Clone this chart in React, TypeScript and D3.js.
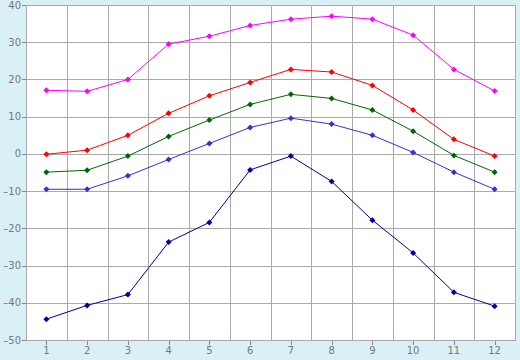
import React from "react";
import * as d3 from "d3";

const months = ["1", "2", "3", "4", "5", "6", "7", "8", "9", "10", "11", "12"];
const magenta = [17.1, 16.8, 20.0, 29.5, 31.6, 34.5, 36.2, 37.0, 36.2, 31.9, 22.7, 16.9];
const red = [-0.1, 1.0, 5.0, 10.9, 15.6, 19.2, 22.7, 22.0, 18.4, 11.8, 3.9, -0.6];
const green = [-4.9, -4.4, -0.6, 4.7, 9.1, 13.3, 16.0, 14.9, 11.8, 6.1, -0.4, -4.9];
const blue = [-9.5, -9.5, -5.9, -1.5, 2.8, 7.1, 9.6, 8.0, 5.0, 0.4, -4.9, -9.5];
const navy = [-44.4, -40.7, -37.8, -23.7, -18.4, -4.3, -0.6, -7.4, -17.8, -26.6, -37.2, -40.9];
const yTicks = [40, 30, 20, 10, 0, -10, -20, -30, -40, -50];

const series = [
  { values: magenta, color: "#ff00ff" },
  { values: red, color: "#ff0000" },
  { values: green, color: "#006600" },
  { values: blue, color: "#3333cc" },
  { values: navy, color: "#000099" },
];

export default function App() {
  const W = 520, H = 360;
  const left = 26, right = 515, top = 5, bottom = 340;
  const x = d3.scaleBand<string>().domain(months).range([left, right]).padding(0);
  const y = d3.scaleLinear().domain([-50, 40]).range([bottom, top]);
  const cx = (i: number) => (x(months[i]) as number) + x.bandwidth() / 2;
  const line = d3
    .line<number>()
    .x((_, i) => cx(i))
    .y((d) => y(d));
  const fmt = (v: number) => (v < 0 ? "\u2013" + Math.abs(v) : String(v));
  return (
    <svg
      width={W}
      height={H}
      style={{ position: "absolute", left: 0, top: 0, display: "block" }}
      fontFamily="DejaVu Sans, Verdana, sans-serif"
    >
      <rect x={0} y={0} width={W} height={H} fill="#daf0f7" />
      <rect x={left} y={top} width={right - left} height={bottom - top} fill="#ffffff" />
      {yTicks.map((t) => (
        <g key={"y" + t}>
          <line x1={left} x2={right} y1={Math.round(y(t)) + 0.5} y2={Math.round(y(t)) + 0.5} stroke="#aaaaaa" />
          <line x1={left - 4} x2={left} y1={Math.round(y(t)) + 0.5} y2={Math.round(y(t)) + 0.5} stroke="#888888" />
          <text x={left - 5} y={y(t)} dy="0.35em" textAnchor="end" fontSize={10} fill="#777777">
            {fmt(t)}
          </text>
        </g>
      ))}
      {months.map((m, i) => (
        <g key={"x" + m}>
          <line
            x1={Math.round(x(m) as number) + 0.5}
            x2={Math.round(x(m) as number) + 0.5}
            y1={top}
            y2={bottom}
            stroke="#aaaaaa"
          />
          <line x1={Math.round(cx(i)) + 0.5} x2={Math.round(cx(i)) + 0.5} y1={bottom} y2={bottom + 5} stroke="#888888" />
          <text x={cx(i)} y={bottom + 14} textAnchor="middle" fontSize={10} fill="#777777">
            {m}
          </text>
        </g>
      ))}
      <rect x={left + 0.5} y={top + 0.5} width={right - left} height={bottom - top} fill="none" stroke="#aaaaaa" />
      {series.map((s, k) => (
        <g key={"s" + k}>
          <path d={line(s.values) || ""} fill="none" stroke={s.color} strokeWidth={1} />
          {s.values.map((v, i) => (
            <path
              key={i}
              d={`M${cx(i)},${y(v) - 3}L${cx(i) + 3},${y(v)}L${cx(i)},${y(v) + 3}L${cx(i) - 3},${y(v)}Z`}
              fill={s.color}
            />
          ))}
        </g>
      ))}
    </svg>
  );
}
